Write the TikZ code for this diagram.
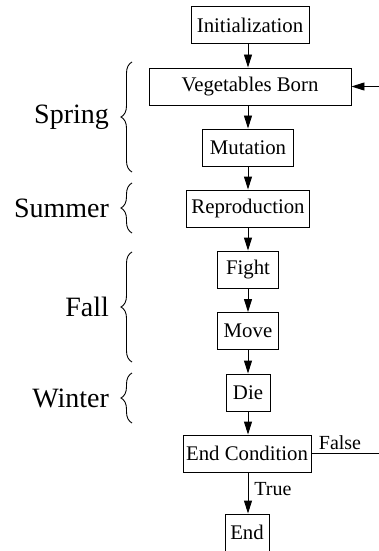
\documentclass[tikz,border=0pt]{standalone}
\usepackage{fontspec}
\setmainfont{Liberation Serif}
\newfontfamily\timesfont{Liberation Serif}[Scale=1.0]
\usetikzlibrary{arrows.meta,decorations.pathreplacing}

\tikzset{
  box/.style={draw, line width=0.45pt, inner sep=0pt, minimum height=18.5pt,
    font=\timesfont\fontsize{10.4}{12}\selectfont},
  flow/.style={-{Triangle[length=6.5pt,width=4pt]}, line width=0.45pt},
  season/.style={decorate, decoration={brace, amplitude=5.5pt}, line width=0.45pt},
  seasonlabel/.style={anchor=east, xshift=-8pt, font=\timesfont\fontsize{14}{16}\selectfont}
}

\begin{document}
\begin{tikzpicture}[x=0.5pt, y=-0.5pt, font=\timesfont]
  \useasboundingbox (0,0) rectangle (379,551);

  % boxes of the yearly loop
  \node[box, minimum width=59pt]   (init)  at (250,25)    {Initialization};
  \node[box, minimum width=101pt]  (veg)   at (250,86.5)  {Vegetables Born};
  \node[box, minimum width=45.5pt] (mut)   at (248,147.5) {Mutation};
  \node[box, minimum width=61.5pt] (repro) at (248,208.5) {Reproduction};
  \node[box, minimum width=30.5pt] (fight) at (248,269.5) {Fight};
  \node[box, minimum width=30.5pt] (move)  at (248,331)   {Move};
  \node[box, minimum width=22pt]   (die)   at (248,392.5) {Die};
  \node[box, minimum width=64pt]   (endc)  at (247,453.5) {End Condition};
  \node[box, minimum width=22pt]   (end)   at (247,532.5) {End};

  % arrows down the chain
  \foreach \a/\b in {init/veg, veg/mut, mut/repro, repro/fight, fight/move, move/die, die/endc}
    \draw[flow] (\a.south -| 248,0) -- (\b.north -| 248,0);
  \draw[flow] (endc.south -| 248,0) -- node[right, inner sep=3pt, pos=0.4] {True} (end.north -| 248,0);

  % loop back in and out
  \coordinate (loopin) at (379,86.5);
  \coordinate (loopout) at (379,453.5);
  \draw[flow] (loopin) -- (veg.east);
  \draw[line width=0.45pt] (endc.east) -- node[pos=0, anchor=south west, inner sep=1.5pt, xshift=2pt] {False} (loopout);

  % seasons
  \draw[season] (132,172) -- node[midway, seasonlabel] {Spring} (132,62);
  \draw[season] (132,233) -- node[midway, seasonlabel] {Summer} (132,183);
  \draw[season] (132,362) -- node[midway, seasonlabel] {Fall} (132,252);
  \draw[season] (132,423) -- node[midway, seasonlabel] {Winter} (132,373);
\end{tikzpicture}
\end{document}
